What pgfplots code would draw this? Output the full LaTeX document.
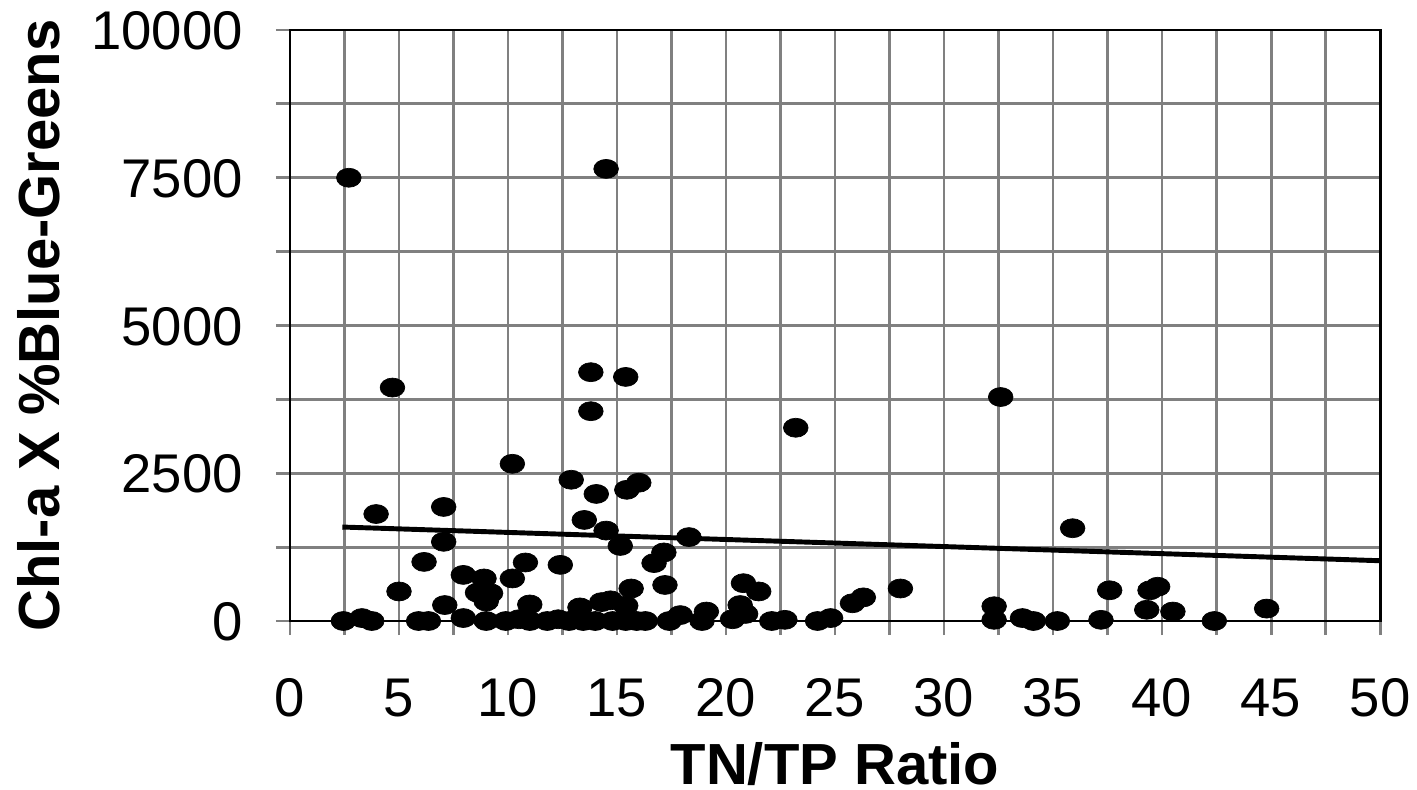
\documentclass[border=0pt]{standalone}
\usepackage{fontspec}
\setmainfont{Liberation Sans}
\usepackage{pgfplots}
\pgfplotsset{compat=1.18}

\begin{document}
\begin{tikzpicture}
% page frame: 1 px of the reference = 0.02 cm
\useasboundingbox (-5.8,-3.36) rectangle (22.54,12.42);
\begin{axis}[
    scale only axis,
    width=21.8cm, height=11.82cm,
    xmin=0, xmax=50, ymin=0, ymax=10000,
    xtick={0,5,...,50},
    minor xtick={2.5,7.5,...,47.5},
    ytick={0,2500,5000,7500,10000},
    minor ytick={1250,3750,6250,8750},
    scaled y ticks=false,
    yticklabels={0,2500,5000,7500,10000},
    grid=both,
    major grid style={gray, line width=1.7pt},
    minor grid style={gray, line width=1.7pt},
    axis line style={black, line width=1.7pt},
    tick align=outside,
    tick pos=left,
    major tick length=0.28cm,
    minor tick length=0.28cm,
    tick style={gray, line width=1.7pt},
    minor tick style={gray, line width=1.7pt},
    /pgf/number format/assume math mode=true,
    /pgf/number format/1000 sep={},
    ticklabel style={font=\fontsize{31}{36}\selectfont, inner sep=0pt,
        text height=22.3pt, text depth=0pt},
    xticklabel shift=0.84cm,
    yticklabel shift=0.66cm,
    xlabel={TN/TP Ratio},
    ylabel={Chl-a X \%Blue-Greens},
    xlabel style={font=\fontsize{33}{38}\selectfont\bfseries, inner sep=0pt,
        at={(axis description cs:0.5,0)}, anchor=north, yshift=-2.42cm},
    ylabel style={font=\fontsize{33}{38}\selectfont\bfseries, inner sep=0pt,
        at={(axis description cs:0,0.5)}, anchor=south, yshift=4.59cm},
    clip=false,
]

\addplot[only marks, mark=*, mark size=5.4pt, mark options={black, xscale=1.3}]
coordinates {
    (2.7,7500) (14.5,7650) (4.7,3950) (13.8,4210) (15.4,4130) (13.8,3550)
    (23.2,3270) (32.6,3790) (10.2,2660) (12.9,2390) (14.05,2150) (15.45,2220)
    (16.0,2340) (3.95,1810) (7.05,1930) (13.5,1710) (14.5,1530) (15.15,1270)
    (7.05,1340) (17.15,1160) (16.7,980) (18.3,1420) (35.9,1570) (6.15,1000)
    (10.8,990) (12.4,950) (5.0,500) (7.95,780) (7.1,270) (8.9,720)
    (8.6,480) (9.0,330) (9.2,470) (10.2,720) (15.65,550) (17.2,610)
    (14.7,350) (14.3,320) (11.0,280) (13.3,230) (15.4,260) (20.8,640)
    (21.5,500) (20.65,270) (19.1,160) (17.9,100) (25.8,300) (26.3,400)
    (28.0,550) (32.3,250) (37.6,520) (39.45,520) (39.8,580) (39.3,190)
    (40.5,160) (44.8,210) (33.6,50)
    (2.45,0) (3.3,50) (3.75,0) (5.9,0) (6.35,0) (7.95,50) (9.0,0) (9.9,0)
    (10.5,30) (11.0,0) (11.8,0) (12.3,30) (12.8,0) (13.45,0) (14.0,0)
    (14.8,0) (15.4,0) (15.9,0) (16.3,0) (17.4,0) (18.9,0) (20.3,30)
    (20.9,120) (22.1,0) (22.7,20) (24.2,0) (24.8,50) (32.3,20) (34.1,0)
    (35.2,0) (37.2,20) (42.4,0)
};

% trend line
\addplot[black, line width=2.8pt, no marks] coordinates {(2.4,1590) (50,1020)};

\end{axis}
\end{tikzpicture}
\end{document}
